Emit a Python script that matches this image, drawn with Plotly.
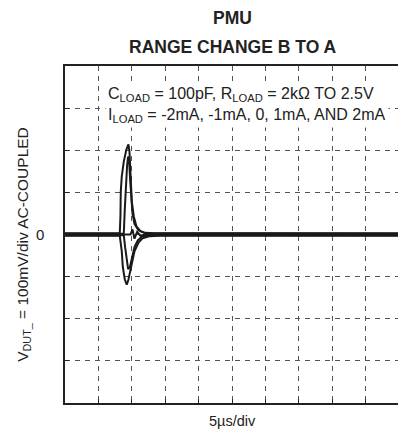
import plotly.graph_objects as go

# Time in microseconds (5 us/div), voltage in mV (100 mV/div), AC-coupled
t_p2 = [0, 8.2, 8.3, 8.35, 8.5, 8.8, 9.2, 9.5, 9.65, 9.8, 10.0, 10.3, 10.7, 11.3, 12.0, 13.4, 50]
v_p2 = [3, 3, 43, 102, 138, 173, 202, 214, 197, 138, 78, 43, 19, 8, 4, 3, 3]

t_p1 = [0, 8.8, 8.95, 9.1, 9.3, 9.45, 9.6, 9.75, 9.9, 10.1, 10.4, 11.0, 12.0, 50]
v_p1 = [1.5, 1.5, 60, 120, 165, 185, 175, 130, 85, 50, 25, 10, 3, 1.5]

t_0 = [0, 9.8, 10.1, 10.4, 10.8, 11.3, 12.0, 50]
v_0 = [0, 0, 12, -10, 6, -3, 0, 0]

t_m1 = [0, 8.8, 9.0, 9.2, 9.45, 9.7, 10.0, 10.4, 10.9, 11.5, 12.5, 50]
v_m1 = [-1.5, -1.5, -30, -60, -82, -78, -55, -30, -14, -5, -2, -1.5]

t_m2 = [0, 8.2, 8.5, 8.65, 8.95, 9.25, 9.5, 9.95, 10.4, 11.0, 11.6, 12.6, 14.1, 50]
v_m2 = [-3, -3, -40, -76, -107, -119, -107, -69, -40, -19, -9, -4, -3, -3]

x_ticks = [0, 5, 10, 15, 20, 25, 30, 35, 40, 45, 50]
y_ticks = [-400, -300, -200, -100, 0, 100, 200, 300, 400]

series = [(t_p2, v_p2), (t_p1, v_p1), (t_0, v_0), (t_m1, v_m1), (t_m2, v_m2)]

fig = go.Figure()
for tx, vy in series:
    fig.add_trace(go.Scatter(x=tx, y=vy, mode="lines",
                             line=dict(color="#1a1a1a", width=2),
                             showlegend=False, hoverinfo="skip"))

axis_common = dict(showgrid=True, gridcolor="#555555", gridwidth=1, griddash="5px,5px",
                   zeroline=False, showline=True, linecolor="#222222", linewidth=2,
                   mirror=True, ticks="inside", ticklen=4, tickcolor="#222222",
                   fixedrange=True)

fig.update_xaxes(range=[0, 50], tickvals=x_ticks, showticklabels=False, **axis_common)
fig.update_yaxes(range=[-400, 400], tickvals=y_ticks, showticklabels=False, **axis_common)

font_family = "Liberation Sans, Arial, sans-serif"

# page body has an 8px default margin, so the figure is 8px smaller than the window
fig.update_layout(
    width=398, height=427,
    margin=dict(l=57, r=5, t=58, b=32),
    paper_bgcolor="white", plot_bgcolor="white",
    font=dict(family=font_family, color="#222222"),
    annotations=[
        dict(text="<b>PMU</b>", xref="paper", yref="paper", x=0.5, y=1.0, yshift=48,
             xanchor="center", yanchor="middle", showarrow=False, font=dict(size=17.5)),
        dict(text="<b>RANGE CHANGE B TO A</b>", xref="paper", yref="paper", x=0.5, y=1.0,
             yshift=19, xanchor="center", yanchor="middle", showarrow=False, font=dict(size=17.5)),
        dict(text="C<sub>LOAD</sub> = 100pF, R<sub>LOAD</sub> = 2kΩ TO 2.5V<br>"
                  "I<sub>LOAD</sub> = -2mA, -1mA, 0, 1mA, AND 2mA",
             xref="paper", yref="paper", x=0.12, y=0.952, xanchor="left", yanchor="top",
             align="left", showarrow=False, bgcolor="white", borderpad=2,
             font=dict(size=16)),
        dict(text="0", xref="paper", yref="y", x=-0.074, y=0, xanchor="center",
             yanchor="middle", showarrow=False, font=dict(size=15)),
        dict(text="V<sub>DUT_</sub> = 100mV/div AC-COUPLED", xref="paper", yref="paper",
             x=-0.125, y=0.47, xanchor="center", yanchor="middle", textangle=-90,
             showarrow=False, font=dict(size=15.5)),
        dict(text="5µs/div", xref="paper", yref="paper", x=0.5, y=0, yshift=-18,
             xanchor="center", yanchor="middle", showarrow=False, font=dict(size=14.5)),
    ],
)

fig.write_html("out.html")
